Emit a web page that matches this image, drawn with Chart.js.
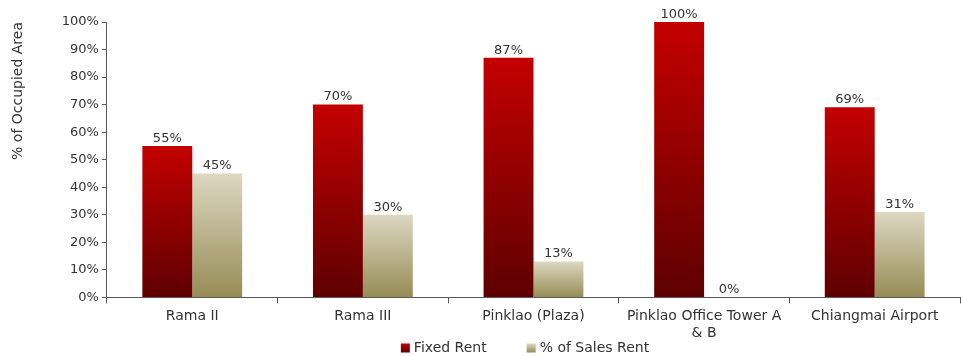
<!DOCTYPE html>
<html>
<head>
<meta charset="utf-8">
<script src="https://cdn.jsdelivr.net/npm/chart.js@4/dist/chart.umd.min.js"></script>
<style>
  html, body { margin: 0; padding: 0; background: #fff; }
  #wrap { width: 961px; height: 356px; }
</style>
</head>
<body>
<div id="wrap"><canvas id="chart"></canvas></div>
<script>
const categories = ["Rama II", "Rama III", "Pinklao (Plaza)", ["Pinklao Office Tower A", "& B"], "Chiangmai Airport"];
const fixedRent = [55, 70, 87, 100, 69];
const salesRent = [45, 30, 13, 0, 31];
const yTicks = [0, 10, 20, 30, 40, 50, 60, 70, 80, 90, 100];

const FONT = "'DejaVu Sans', sans-serif";
const TEXT = "#333333";
const RED = ["#c40000", "#5e0000"];
const BEIGE = ["#dcd8c2", "#968c55"];

function barGradient(colors) {
  return function (ctx) {
    const chart = ctx.chart;
    if (!chart.chartArea || ctx.raw === undefined) {
      return colors[0];
    }
    const y = chart.scales.y;
    const y0 = y.getPixelForValue(0);
    const y1 = y.getPixelForValue(ctx.raw);
    if (Math.abs(y0 - y1) < 1) {
      return colors[0];
    }
    const g = chart.ctx.createLinearGradient(0, y1, 0, y0);
    g.addColorStop(0, colors[0]);
    g.addColorStop(1, colors[1]);
    return g;
  };
}

// labels above each bar
const valueLabels = {
  id: "valueLabels",
  afterDatasetsDraw(chart) {
    const ctx = chart.ctx;
    ctx.save();
    ctx.font = "13px " + FONT;
    ctx.fillStyle = TEXT;
    ctx.textAlign = "center";
    ctx.textBaseline = "bottom";
    chart.data.datasets.forEach((ds, i) => {
      chart.getDatasetMeta(i).data.forEach((bar, j) => {
        ctx.fillText(ds.data[j] + "%", bar.x, bar.y - 1);
      });
    });
    ctx.restore();
  }
};

// legend drawn by hand so the item gap can be wide without a tall box
const wideLegend = {
  id: "wideLegend",
  afterDraw(chart) {
    const ctx = chart.ctx;
    const palettes = [RED, BEIGE];
    const gap = 40;
    const box = 9;
    ctx.save();
    ctx.font = "14px " + FONT;
    const widths = chart.data.datasets.map((ds) => box + 4 + ctx.measureText(ds.label).width);
    const total = widths.reduce((a, b) => a + b, 0) + gap * (widths.length - 1);
    let x = 525 - total / 2;
    const y = 348;
    chart.data.datasets.forEach((ds, i) => {
      const g = ctx.createLinearGradient(0, y - box / 2, 0, y + box / 2);
      g.addColorStop(0, palettes[i][0]);
      g.addColorStop(1, palettes[i][1]);
      ctx.fillStyle = g;
      ctx.fillRect(x, y - box / 2, box, box);
      ctx.fillStyle = TEXT;
      ctx.textAlign = "left";
      ctx.textBaseline = "middle";
      ctx.fillText(ds.label, x + box + 4, y);
      x += widths[i] + gap;
    });
    ctx.restore();
  }
};

new Chart(document.getElementById("chart"), {
  type: "bar",
  data: {
    labels: categories,
    datasets: [
      { label: "Fixed Rent", data: fixedRent, backgroundColor: barGradient(RED) },
      { label: "% of Sales Rent", data: salesRent, backgroundColor: barGradient(BEIGE) }
    ]
  },
  options: {
    responsive: true,
    maintainAspectRatio: false,
    animation: false,
    layout: { padding: { top: 22, right: 1, left: 4, bottom: 9 } },
    datasets: {
      bar: { barPercentage: 1, categoryPercentage: 0.585 }
    },
    scales: {
      x: {
        grid: {
          drawOnChartArea: false,
          offset: true,
          tickLength: 6,
          color: "#595959"
        },
        border: { color: "#595959", width: 1 },
        ticks: {
          color: TEXT,
          font: { family: FONT, size: 14 },
          maxRotation: 0,
          padding: 5
        }
      },
      y: {
        min: 0,
        max: 100,
        afterBuildTicks(axis) {
          axis.ticks = yTicks.map((v) => ({ value: v }));
        },
        grid: {
          drawOnChartArea: false,
          tickLength: 5,
          color: "#595959"
        },
        border: { color: "#595959", width: 1 },
        ticks: {
          color: TEXT,
          font: { family: FONT, size: 13 },
          padding: 3,
          callback: (v) => v + "%"
        },
        title: {
          display: true,
          text: "% of Occupied Area",
          align: "end",
          color: TEXT,
          font: { family: FONT, size: 14 },
          padding: { top: 6, bottom: 32 }
        }
      }
    },
    plugins: {
      legend: { display: false },
      tooltip: { enabled: false }
    }
  },
  plugins: [valueLabels, wideLegend]
});
</script>
</body>
</html>
